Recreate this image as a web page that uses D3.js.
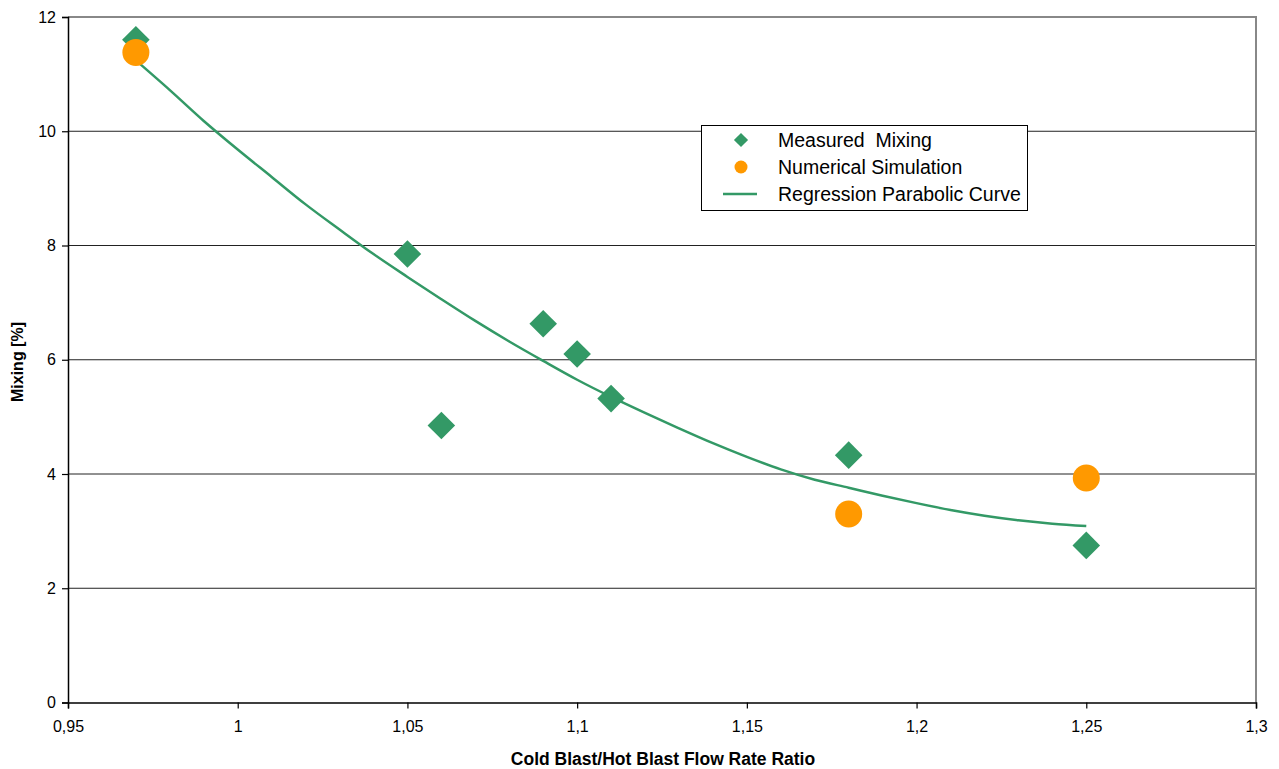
<!DOCTYPE html>
<html><head><meta charset="utf-8">
<script src="https://cdn.jsdelivr.net/npm/d3@7"></script>
<style>body{margin:0;background:#fff}svg{display:block}text{font-family:Arial,"Liberation Sans",sans-serif;white-space:pre}</style>
</head><body><svg id="c" width="1279" height="769"></svg>
<script>
const measuredX = [0.97, 1.05, 1.06, 1.09, 1.10, 1.11, 1.18, 1.25];
const measuredY = [11.6, 7.85, 4.85, 6.63, 6.10, 5.32, 4.33, 2.75];
const simX = [0.97, 1.18, 1.25];
const simY = [11.38, 3.30, 3.93];
const curveX = [0.97,0.98,0.99,1.00,1.01,1.02,1.03,1.04,1.05,1.06,1.07,1.08,1.09,1.10,1.11,1.12,1.13,1.14,1.15,1.16,1.17,1.18,1.19,1.20,1.21,1.22,1.23,1.24,1.25];
const curveY = [11.24,10.72,10.18,9.68,9.20,8.72,8.28,7.85,7.45,7.06,6.68,6.32,5.98,5.65,5.35,5.07,4.80,4.54,4.30,4.08,3.90,3.76,3.62,3.49,3.37,3.27,3.19,3.13,3.09];
const xTicks = [0.95,1.0,1.05,1.1,1.15,1.2,1.25,1.3];
const xTickLabels = ["0,95","1","1,05","1,1","1,15","1,2","1,25","1,3"];
const yTicks = [0,2,4,6,8,10,12];
const legendLabels = ["Measured  Mixing","Numerical Simulation","Regression Parabolic Curve"];
const green = "#339966", orange = "#FF9900";

const svg = d3.select("#c");
const L = 68, R = 1256, T = 17, B = 702.5;
const x = d3.scaleLinear().domain([0.95,1.3]).range([L,R]);
const y = d3.scaleLinear().domain([0,12]).range([B,T]);

// gridlines
svg.append("g").selectAll("line").data(yTicks.filter(d=>d>0 && d<12)).join("line")
  .attr("x1",L).attr("x2",R).attr("y1",d=>y(d)).attr("y2",d=>y(d))
  .attr("stroke","#222").attr("stroke-width",1);
// top & right border
svg.append("path").attr("d",`M${L},${y(12)}H${R}V${B}`).attr("fill","none")
  .attr("stroke","#888").attr("stroke-width",2);

// axes
const xAxis = d3.axisBottom(x).tickValues(xTicks).tickFormat((d,i)=>xTickLabels[i]).tickSize(6).tickPadding(12);
const gx = svg.append("g").attr("transform",`translate(0,${B})`).call(xAxis);
const yAxis = d3.axisLeft(y).tickValues(yTicks).tickFormat(d=>d).tickSize(6).tickPadding(6);
const gy = svg.append("g").attr("transform",`translate(${L},0)`).call(yAxis);
[gx,gy].forEach(g=>{
  g.select(".domain").attr("stroke","#000").attr("stroke-width",1.5);
  g.selectAll(".tick line").attr("stroke","#000").attr("stroke-width",1.2);
  g.selectAll("text").attr("font-size",16).attr("fill","#000").style("font-family",'Arial,"Liberation Sans",sans-serif');
});

// curve
const pts = curveX.map((d,i)=>[d,curveY[i]]);
svg.append("path").datum(pts)
  .attr("d",d3.line().x(d=>x(d[0])).y(d=>y(d[1])).curve(d3.curveMonotoneX))
  .attr("fill","none").attr("stroke",green).attr("stroke-width",2.5);

// measured diamonds
const mPts = measuredX.map((d,i)=>[d,measuredY[i]]);
svg.append("g").selectAll("path").data(mPts).join("path")
  .attr("d",d3.symbol().type(d3.symbolSquare).size(19.5*19.5))
  .attr("transform",d=>`translate(${x(d[0])},${y(d[1])}) rotate(45)`)
  .attr("fill",green);
// simulation circles
const sPts = simX.map((d,i)=>[d,simY[i]]);
svg.append("g").selectAll("circle").data(sPts).join("circle")
  .attr("cx",d=>x(d[0])).attr("cy",d=>y(d[1])).attr("r",13.5).attr("fill",orange);

// axis titles
svg.append("text").attr("x",663).attr("y",765).attr("text-anchor","middle")
  .attr("font-size",17.5).attr("font-weight","bold").text("Cold Blast/Hot Blast Flow Rate Ratio");
svg.append("text").attr("transform","translate(23,362) rotate(-90)").attr("text-anchor","middle")
  .attr("font-size",16).attr("font-weight","bold").text("Mixing [%]");

// legend
const lg = svg.append("g");
lg.append("rect").attr("x",701.5).attr("y",125.5).attr("width",326).attr("height",85)
  .attr("fill","#fff").attr("stroke","#000").attr("stroke-width",1);
const rows = [140,167,194];
lg.append("path").attr("d",d3.symbol().type(d3.symbolSquare).size(10*10))
  .attr("transform",`translate(741,${rows[0]}) rotate(45)`).attr("fill",green);
lg.append("circle").attr("cx",741).attr("cy",rows[1]).attr("r",6.5).attr("fill",orange);
lg.append("line").attr("x1",723).attr("x2",757).attr("y1",rows[2]).attr("y2",rows[2])
  .attr("stroke",green).attr("stroke-width",2.5);
lg.selectAll("text").data(legendLabels).join("text")
  .attr("x",778).attr("y",(d,i)=>rows[i]+6.5).attr("font-size",19.5).text(d=>d);
</script></body></html>
